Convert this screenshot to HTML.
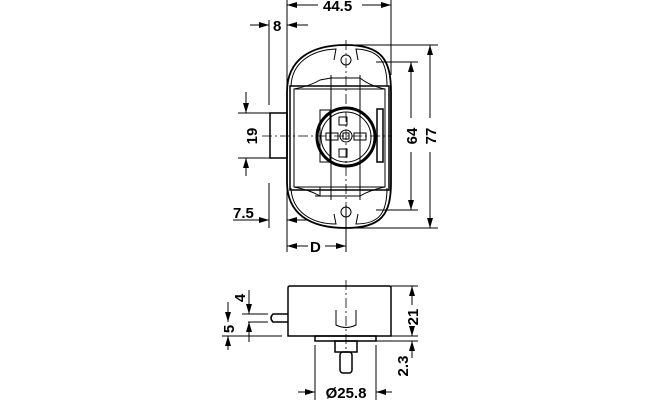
<!DOCTYPE html>
<html><head><meta charset="utf-8"><style>
html,body{margin:0;padding:0;background:#fff}
svg{display:block}
text{font-family:"Liberation Sans",sans-serif;font-weight:bold;font-size:15px;fill:#000}
</style></head><body>
<svg width="660" height="400" viewBox="0 0 660 400" xmlns="http://www.w3.org/2000/svg">
<defs>
<marker id="a" viewBox="0 0 10 6" refX="10" refY="3" markerWidth="10" markerHeight="6" orient="auto-start-reverse" markerUnits="userSpaceOnUse"><path d="M0,0 L10,3 L0,6z" fill="#000"/></marker>
</defs>
<g stroke="#000" fill="none" stroke-width="1">
<line x1="287" y1="0" x2="287" y2="252"/>
<line x1="391" y1="0" x2="391" y2="75"/>
<line x1="269" y1="20" x2="269" y2="105"/>
<line x1="269" y1="183" x2="269" y2="228"/>
<line x1="346" y1="205" x2="346" y2="252"/>
<line x1="355" y1="45" x2="438" y2="45"/>
<line x1="355" y1="228" x2="438" y2="228"/>
<line x1="376" y1="62" x2="418" y2="62"/>
<line x1="376" y1="210" x2="418" y2="210"/>
<line x1="238" y1="113" x2="270" y2="113"/>
<line x1="238" y1="158" x2="270" y2="158"/>
<line x1="287" y1="5" x2="318" y2="5" marker-start="url(#a)"/>
<line x1="362" y1="5" x2="391" y2="5" marker-end="url(#a)"/>
<line x1="250" y1="25" x2="269" y2="25" marker-end="url(#a)"/>
<line x1="308" y1="25" x2="287" y2="25" marker-end="url(#a)"/>
<line x1="246" y1="92" x2="246" y2="113" marker-end="url(#a)"/>
<line x1="246" y1="176" x2="246" y2="158" marker-end="url(#a)"/>
<line x1="233" y1="220" x2="269" y2="220" marker-end="url(#a)"/>
<line x1="308" y1="220" x2="287" y2="220" marker-end="url(#a)"/>
<line x1="287" y1="246" x2="308" y2="246" marker-start="url(#a)"/>
<line x1="325" y1="246" x2="346" y2="246" marker-end="url(#a)"/>
<line x1="411" y1="62" x2="411" y2="118" marker-start="url(#a)"/>
<line x1="411" y1="152" x2="411" y2="210" marker-end="url(#a)"/>
<line x1="430" y1="45" x2="430" y2="118" marker-start="url(#a)"/>
<line x1="430" y1="152" x2="430" y2="228" marker-end="url(#a)"/>
<path d="M287,92 C287,60 310,45 346,45 C382,45 391,60 391,92 L391,182 C391,214 382,228 346,228 C310,228 287,214 287,182 Z" stroke-width="1.8"/>
<path d="M291,86 C292,62 312,50 336,49 L334,60 M358,60 L356,49 C380,50 387,62 387,86" />
<path d="M291,188 C292,212 312,224 336,224 L334,214 M358,214 L356,224 C380,224 387,212 387,188"/>
<rect x="290" y="86" width="99" height="104" stroke-width="1.5"/>
<rect x="294" y="89" width="91" height="98"/>
<path d="M331,75 L331,200 M360,75 L360,200 M331,78 L360,78 M331,196 L360,196"/>
<path d="M294,89 Q310,86 320,80 L331,78 M385,89 Q370,86 360,78"/>
<path d="M294,187 Q310,190 320,196 L331,196 M385,187 Q370,190 360,196"/>
<circle cx="346" cy="60" r="5"/>
<circle cx="346" cy="212" r="5"/>
<rect x="320" y="110" width="10" height="52"/>
<circle cx="346" cy="137" r="29" stroke-width="3"/>
<circle cx="346" cy="137" r="25"/>
<circle cx="346" cy="136" r="6"/>
<rect x="343" y="133" width="6" height="6"/>
<rect x="326" y="133" width="12" height="7"/>
<rect x="354" y="133" width="12" height="7"/>
<rect x="339" y="117" width="8" height="8"/>
<rect x="339" y="149" width="8" height="8"/>
<rect x="377" y="109" width="6" height="53" stroke-width="1.5"/>
<rect x="270" y="113" width="17" height="45" stroke-width="1.5"/>
<path d="M294,187 L320,187 L320,196 L315,196" />
<line x1="346" y1="40" x2="346" y2="232" stroke-dasharray="10,3,2,3" stroke-width="0.8"/>
<line x1="262" y1="136" x2="392" y2="136" stroke-dasharray="10,3,2,3" stroke-width="0.8"/>
<path d="M288,336 L288,288 Q288,286 290,286 L389,286 Q391,286 391,288 L391,336 Z" stroke-width="1.5"/>
<rect x="315" y="336" width="61" height="5" stroke-width="1.5"/>
<rect x="335" y="341" width="22" height="11" stroke-width="1.5"/>
<rect x="340" y="352" width="12" height="21" rx="3" stroke-width="1.5"/>
<path d="M288,314 L273,314 Q269,318 273,322 L288,322" stroke-width="1.5"/>
<path d="M336,310 L336,325 Q346,330 356,325 L356,310"/>
<line x1="346" y1="280" x2="346" y2="350" stroke-dasharray="10,3,2,3" stroke-width="0.8"/>
<line x1="242" y1="314" x2="268" y2="314"/>
<line x1="248" y1="322" x2="268" y2="322"/>
<line x1="222" y1="336" x2="282" y2="336"/>
<line x1="391" y1="286" x2="418" y2="286"/>
<line x1="378" y1="336" x2="418" y2="336"/>
<line x1="376" y1="341" x2="418" y2="341"/>
<line x1="315" y1="345" x2="315" y2="400"/>
<line x1="376" y1="345" x2="376" y2="400"/>
<line x1="249" y1="290" x2="249" y2="314" marker-end="url(#a)"/>
<line x1="249" y1="342" x2="249" y2="322" marker-end="url(#a)"/>
<line x1="228" y1="302" x2="228" y2="322" marker-end="url(#a)"/>
<line x1="228" y1="350" x2="228" y2="336" marker-end="url(#a)"/>
<line x1="412" y1="286" x2="412" y2="305" marker-start="url(#a)"/>
<line x1="412" y1="328" x2="412" y2="336" marker-end="url(#a)"/>
<line x1="412" y1="358" x2="412" y2="341" marker-end="url(#a)"/>
<line x1="298" y1="392" x2="315" y2="392" marker-end="url(#a)"/>
<line x1="392" y1="392" x2="376" y2="392" marker-end="url(#a)"/>
</g>
<text x="323" y="11">44.5</text>
<text x="273" y="31">8</text>
<text x="233" y="218">7.5</text>
<text x="310" y="252">D</text>
<text x="257" y="136" transform="rotate(-90 257 136)" text-anchor="middle">19</text>
<text x="417" y="136" transform="rotate(-90 417 136)" text-anchor="middle">64</text>
<text x="436" y="136" transform="rotate(-90 436 136)" text-anchor="middle">77</text>
<text x="245" y="298" transform="rotate(-90 245 298)" text-anchor="middle">4</text>
<text x="234" y="329" transform="rotate(-90 234 329)" text-anchor="middle">5</text>
<text x="418" y="317" transform="rotate(-90 418 317)" text-anchor="middle">21</text>
<text x="408" y="366" transform="rotate(-90 408 366)" text-anchor="middle">2.3</text>
<text x="346" y="398" text-anchor="middle">Ø25.8</text>
</svg>
</body></html>
